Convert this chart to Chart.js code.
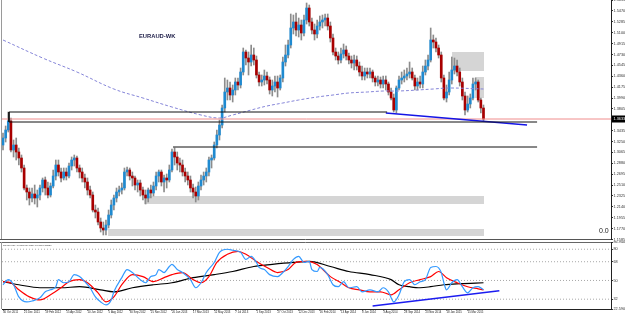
<!DOCTYPE html>
<html>
<head>
<meta charset="utf-8">
<title>EURAUD-WK</title>
<script src="https://cdn.jsdelivr.net/npm/chart.js@4.4.0/dist/chart.umd.min.js"></script>
<style>
  html, body { margin: 0; padding: 0; background: #fff; }
  #wrap { position: relative; width: 625px; height: 316px; overflow: hidden; }
  canvas { position: absolute; left: 0; }
  #main { top: 0; }
  #sub { top: 241px; }
</style>
</head>
<body>
<div id="wrap">
  <canvas id="main" width="625" height="241"></canvas>
  <canvas id="sub" width="625" height="75"></canvas>
</div>
<script>
const symbol = 'EURAUD-WK';
const tdiText = 'TDI 55.0459 46.8195 36.1952 40.6672 43.2836';

// weekly candles, 30 Oct 2011 .. Apr 2015
const opens = [1.3191,1.3310,1.3446,1.3599,1.3106,1.3191,1.3072,1.2970,1.2800,1.2460,
  1.2392,1.2290,1.2358,1.2290,1.2341,1.2460,1.2596,1.2460,1.2341,1.2494,
  1.2664,1.2851,1.2732,1.2630,1.2732,1.2664,1.2834,1.2936,1.2970,1.2800,
  1.2732,1.2630,1.2562,1.2426,1.2341,1.2086,1.2052,1.1882,1.1780,1.1746,
  1.1831,1.2001,1.2171,1.2290,1.2392,1.2426,1.2460,1.2732,1.2766,1.2664,
  1.2630,1.2511,1.2545,1.2426,1.2341,1.2290,1.2426,1.2375,1.2494,1.2664,
  1.2732,1.2562,1.2630,1.2596,1.2766,1.3072,1.2987,1.2885,1.2851,1.2732,
  1.2664,1.2596,1.2460,1.2392,1.2324,1.2494,1.2596,1.2664,1.2732,1.2936,
  1.2970,1.3191,1.3361,1.3531,1.3820,1.4092,1.4160,1.4041,1.4126,1.4262,
  1.4211,1.4432,1.4772,1.4670,1.4602,1.4721,1.4636,1.4381,1.4262,1.4296,
  1.4364,1.4296,1.4126,1.4194,1.4262,1.4160,1.4330,1.4602,1.4721,1.4891,
  1.5180,1.5282,1.5146,1.5231,1.5095,1.5316,1.5520,1.5282,1.5146,1.5078,
  1.5214,1.5282,1.5316,1.5350,1.5214,1.5010,1.4772,1.4704,1.4636,1.4738,
  1.4806,1.4704,1.4636,1.4585,1.4636,1.4534,1.4432,1.4364,1.4432,1.4398,
  1.4432,1.4330,1.4262,1.4296,1.4228,1.4296,1.4228,1.4092,1.3990,1.3786,
  1.4160,1.4296,1.4330,1.4364,1.4398,1.4432,1.4330,1.4194,1.4262,1.4228,
  1.4432,1.4534,1.4636,1.4976,1.4942,1.4840,1.4721,1.4330,1.3990,1.4092,
  1.4296,1.4466,1.4534,1.4432,1.4262,1.4024,1.3786,1.3888,1.3990,1.4228,
  1.4262,1.3956,1.3820];

const highs = [1.3395,1.3514,1.3752,1.3650,1.3276,1.3310,1.3140,1.3021,1.2851,1.2511,
  1.2460,1.2460,1.2511,1.2426,1.2511,1.2630,1.2647,1.2562,1.2545,1.2766,
  1.2936,1.2936,1.2800,1.2800,1.2800,1.2885,1.2987,1.3021,1.3004,1.2851,
  1.2800,1.2698,1.2630,1.2494,1.2392,1.2171,1.2120,1.1950,1.1882,1.1916,
  1.2086,1.2256,1.2341,1.2460,1.2494,1.2545,1.2800,1.2817,1.2800,1.2732,
  1.2664,1.2596,1.2596,1.2477,1.2426,1.2460,1.2511,1.2562,1.2732,1.2766,
  1.2766,1.2681,1.2698,1.2851,1.3123,1.3140,1.3072,1.2970,1.2936,1.2800,
  1.2732,1.2664,1.2528,1.2477,1.2562,1.2681,1.2732,1.2800,1.2987,1.3021,
  1.3242,1.3446,1.3616,1.3871,1.4330,1.4296,1.4262,1.4211,1.4330,1.4330,
  1.4500,1.4840,1.4806,1.4772,1.4891,1.4840,1.4704,1.4432,1.4381,1.4466,
  1.4432,1.4347,1.4296,1.4364,1.4364,1.4381,1.4687,1.4891,1.4976,1.5418,
  1.5401,1.5435,1.5350,1.5316,1.5401,1.5605,1.5571,1.5350,1.5248,1.5316,
  1.5384,1.5401,1.5418,1.5418,1.5282,1.5078,1.4840,1.4772,1.4840,1.4908,
  1.4874,1.4755,1.4704,1.4721,1.4704,1.4602,1.4534,1.4500,1.4500,1.4500,
  1.4466,1.4364,1.4364,1.4347,1.4364,1.4364,1.4262,1.4160,1.4058,1.4194,
  1.4364,1.4432,1.4466,1.4500,1.4602,1.4500,1.4381,1.4330,1.4364,1.4534,
  1.4636,1.4721,1.5180,1.5061,1.5010,1.4891,1.4772,1.4381,1.4211,1.4432,
  1.4687,1.4670,1.4636,1.4500,1.4330,1.4092,1.4024,1.4058,1.4330,1.4330,
  1.4296,1.3990,1.3871];

const lows = [1.3106,1.3242,1.3412,1.3072,1.2987,1.2936,1.2851,1.2732,1.2426,1.2256,
  1.2171,1.2222,1.2188,1.2137,1.2256,1.2392,1.2341,1.2290,1.2307,1.2460,
  1.2596,1.2664,1.2562,1.2596,1.2596,1.2630,1.2766,1.2834,1.2732,1.2630,
  1.2562,1.2460,1.2341,1.2290,1.2052,1.1950,1.1831,1.1712,1.1661,1.1661,
  1.1780,1.1950,1.2086,1.2222,1.2324,1.2358,1.2426,1.2664,1.2596,1.2494,
  1.2426,1.2392,1.2324,1.2256,1.2188,1.2222,1.2290,1.2324,1.2426,1.2562,
  1.2494,1.2392,1.2460,1.2562,1.2732,1.2851,1.2766,1.2732,1.2664,1.2562,
  1.2511,1.2392,1.2290,1.2222,1.2256,1.2426,1.2511,1.2562,1.2664,1.2800,
  1.2936,1.3140,1.3276,1.3480,1.3752,1.3956,1.3956,1.3922,1.4041,1.4126,
  1.4160,1.4381,1.4551,1.4381,1.4534,1.4551,1.4330,1.4194,1.4194,1.4211,
  1.4228,1.4058,1.4024,1.4092,1.4007,1.4126,1.4262,1.4534,1.4670,1.4840,
  1.5078,1.5044,1.5027,1.4976,1.5044,1.5248,1.5214,1.5078,1.4976,1.5010,
  1.5146,1.5180,1.5214,1.5146,1.4942,1.4721,1.4636,1.4568,1.4585,1.4670,
  1.4636,1.4568,1.4500,1.4466,1.4466,1.4364,1.4296,1.4296,1.4330,1.4330,
  1.4262,1.4194,1.4194,1.4160,1.4160,1.4126,1.4041,1.3956,1.3752,1.3735,
  1.4126,1.4228,1.4262,1.4296,1.4330,1.4296,1.4126,1.4126,1.4160,1.4160,
  1.4381,1.4466,1.4602,1.4840,1.4772,1.4670,1.4262,1.3956,1.3922,1.4041,
  1.4228,1.4398,1.4364,1.4194,1.3956,1.3701,1.3752,1.3820,1.3956,1.4126,
  1.3922,1.3735,1.3599];

const closes = [1.3310,1.3446,1.3599,1.3106,1.3191,1.3072,1.2970,1.2800,1.2460,1.2392,
  1.2290,1.2358,1.2290,1.2341,1.2460,1.2596,1.2460,1.2341,1.2494,1.2664,
  1.2851,1.2732,1.2630,1.2732,1.2664,1.2834,1.2936,1.2970,1.2800,1.2732,
  1.2630,1.2562,1.2426,1.2341,1.2086,1.2052,1.1882,1.1780,1.1746,1.1831,
  1.2001,1.2171,1.2290,1.2392,1.2426,1.2460,1.2732,1.2766,1.2664,1.2630,
  1.2511,1.2545,1.2426,1.2341,1.2290,1.2426,1.2375,1.2494,1.2664,1.2732,
  1.2562,1.2630,1.2596,1.2766,1.3072,1.2987,1.2885,1.2851,1.2732,1.2664,
  1.2596,1.2460,1.2392,1.2324,1.2494,1.2596,1.2664,1.2732,1.2936,1.2970,
  1.3191,1.3361,1.3531,1.3820,1.4092,1.4160,1.4041,1.4126,1.4262,1.4211,
  1.4432,1.4772,1.4670,1.4602,1.4721,1.4636,1.4381,1.4262,1.4296,1.4364,
  1.4296,1.4126,1.4194,1.4262,1.4160,1.4330,1.4602,1.4721,1.4891,1.5180,
  1.5282,1.5146,1.5231,1.5095,1.5316,1.5520,1.5282,1.5146,1.5078,1.5214,
  1.5282,1.5316,1.5350,1.5214,1.5010,1.4772,1.4704,1.4636,1.4738,1.4806,
  1.4704,1.4636,1.4585,1.4636,1.4534,1.4432,1.4364,1.4432,1.4398,1.4432,
  1.4330,1.4262,1.4296,1.4228,1.4296,1.4228,1.4092,1.3990,1.3786,1.4160,
  1.4296,1.4330,1.4364,1.4398,1.4432,1.4330,1.4194,1.4262,1.4228,1.4432,
  1.4534,1.4636,1.4976,1.4942,1.4840,1.4721,1.4330,1.3990,1.4092,1.4296,
  1.4466,1.4534,1.4432,1.4262,1.4024,1.3786,1.3888,1.3990,1.4228,1.4262,
  1.3956,1.3820,1.3633];

// moving average (dashed)
const maIndex = [0,15,28,42,53,64,75,82,87,94,100,106,112,119,125,131,138,144,150,163,169,182];
const maValues = [1.4976,1.4670,1.4432,1.4143,1.3990,1.3837,1.3701,1.3650,1.3701,1.3786,1.3854,
  1.3905,1.3956,1.4007,1.4041,1.4075,1.4092,1.4109,1.4109,1.4143,1.4160,1.4143];

// drawn levels, zones and trend line (bar index / price)
const boxLineIndex = [145.5, 2.27, 2.27, 202.3];
const boxLinePrice = [1.3752, 1.3752, 1.3582, 1.3582];
const lowLineIndex = [64.4, 202.3];
const lowLinePrice = [1.3157, 1.3157];
const trendIndex = [145, 198.5];
const trendPrice = [1.3735, 1.3531];
const zoneFrom = [53.4, 39.8, 170.1, 178.8];
const zoneTo = [182.2, 182.2, 182.2, 182.2];
const zoneTop = [1.2324, 1.1763, 1.4772, 1.4347];
const zoneBottom = [1.2188, 1.1644, 1.4449, 1.3990];

const priceTicks = [1.1585,1.1770,1.1955,1.2140,1.2325,1.2510,1.2695,1.2880,1.3065,1.3250,1.3435,1.3620,
  1.3805,1.3990,1.4175,1.4360,1.4545,1.4730,1.4915,1.5100,1.5285,1.5470,1.5655];
const priceMin = 1.1593, priceMax = 1.5656;

// TDI sub window
const fastIndex = [0,2,4,6,9,11,14,16,18,20,21,23,25,27,29,31,33,35,37,39,41,42,45,47,49,52,54,56,58,59,
  61,63,64,66,68,71,73,75,77,80,82,85,87,90,92,94,96,97,99,101,104,106,108,110,112,114,116,117,119,120,
  123,125,127,129,131,134,136,139,142,144,146,148,150,152,154,156,158,160,162,164,166,167,168,170,172,174,176,178,180,182];
const fastValues = [45.9,50.8,45.9,34.2,29.4,30.3,33.3,39.1,41.0,44.0,50.8,47.8,48.8,55.6,53.7,48.8,43.0,34.2,29.4,26.5,
  31.3,39.1,52.7,60.5,57.6,50.8,47.8,53.7,55.6,60.5,57.6,63.4,65.4,60.5,57.6,50.8,43.0,47.8,57.6,67.3,
  77.0,80.0,79.0,77.0,70.2,73.2,67.3,62.5,60.5,55.6,53.7,57.6,63.4,70.2,73.2,67.3,68.3,60.5,58.6,62.5,
  55.6,45.9,44.0,48.8,43.0,44.0,39.1,41.0,39.1,43.0,39.1,29.4,36.2,48.8,50.8,45.9,48.8,50.8,62.5,63.4,
  57.6,47.8,41.0,47.8,50.8,44.0,38.1,43.0,44.0,41.0];
const signalIndex = [0,3,6,10,14,18,22,25,29,32,36,39,42,45,49,53,57,61,64,68,72,75,78,81,85,89,92,96,100,104,
  108,111,115,119,124,128,131,135,139,143,147,150,154,158,162,165,168,172,176,180,182];
const signalValues = [48.8,47.8,41.0,34.2,31.3,36.2,43.0,48.8,50.8,47.8,38.1,29.4,34.2,45.9,55.6,53.7,48.8,52.7,55.6,57.6,
  50.8,47.8,53.7,67.3,75.1,78.0,75.1,68.3,62.5,57.6,60.5,67.3,68.3,65.4,53.7,47.8,43.0,41.0,39.1,39.1,
  36.2,41.0,47.8,50.8,53.7,58.6,52.7,47.8,44.0,42.0,41.0];
const baseIndex = [0,6,14,22,29,37,42,49,57,64,72,80,87,95,102,110,116,124,131,139,147,150,154,158,162,167,173,182];
const baseValues = [48.8,45.9,43.0,43.0,44.0,41.0,39.1,43.0,45.9,47.8,52.7,55.6,58.6,63.4,65.4,67.3,68.3,63.4,58.6,55.6,
  50.8,45.9,44.0,43.0,44.0,45.9,46.9,47.8];
const subTrendIndex = [140, 188];
const subTrendValues = [25.5, 40.1];
const subLevels = [32, 50, 68, 80];
const subTicks = [22.5906, 32, 50, 68, 80, 86.9406];
const subMin = 22.5906, subMax = 86.9406;

const dateLabels = ['30 Oct 2011','25 Dec 2011','19 Feb 2012','15 Apr 2012','10 Jun 2012','5 Aug 2012',
  '30 Sep 2012','25 Nov 2012','20 Jan 2013','17 Mar 2013','12 May 2013','7 Jul 2013','1 Sep 2013',
  '27 Oct 2013','22 Dec 2013','16 Feb 2014','13 Apr 2014','8 Jun 2014','3 Aug 2014','28 Sep 2014',
  '23 Nov 2014','18 Jan 2015','15 Mar 2015'];
const weeksPerLabel = 8;

const xMin = -0.38, xMax = 230.3;
const FONT = 'Liberation Sans';

const pts = (xs, ys) => xs.map((x, k) => ({ x: x, y: ys[k] }));
const lineSet = (data, color, width, extra) => Object.assign({
  type: 'line', data: data, borderColor: color, borderWidth: width,
  pointRadius: 0, fill: false, tension: 0
}, extra || {});

const lastClose = closes[closes.length - 1];

const mainDecor = {
  id: 'mainDecor',
  beforeDatasetsDraw(chart) {
    const { ctx, scales: { x, y } } = chart;
    ctx.save();
    ctx.fillStyle = '#d5d5d5';
    zoneFrom.forEach((f, k) => {
      const x0 = x.getPixelForValue(f), x1 = x.getPixelForValue(zoneTo[k]);
      const y0 = y.getPixelForValue(zoneTop[k]), y1 = y.getPixelForValue(zoneBottom[k]);
      ctx.fillRect(x0, y0, x1 - x0, y1 - y0);
    });
    ctx.restore();
  },
  afterDraw(chart) {
    const { ctx, chartArea: a, scales: { y } } = chart;
    ctx.save();
    ctx.lineWidth = 1;
    ctx.strokeStyle = '#9a9a9a';
    ctx.beginPath(); ctx.moveTo(1.5, 0); ctx.lineTo(1.5, a.bottom); ctx.stroke();
    ctx.strokeStyle = '#555';
    ctx.beginPath(); ctx.moveTo(0, a.bottom + 0.5); ctx.lineTo(a.right, a.bottom + 0.5); ctx.stroke();

    ctx.textBaseline = 'middle';
    ctx.font = 'bold 5.8px "' + FONT + '"';
    ctx.fillStyle = '#1b1b46';
    ctx.fillText(symbol, 139, 36.5);
    ctx.font = '7px "' + FONT + '"';
    ctx.fillStyle = '#222';
    ctx.fillText('0.0', 599, 231.5);

    const py = y.getPixelForValue(lastClose);
    ctx.fillStyle = '#000';
    ctx.fillRect(a.right + 1, py - 3.5, 14, 7);
    ctx.fillStyle = '#fff';
    ctx.font = '3.8px "' + FONT + '"';
    ctx.fillText(lastClose.toFixed(4), a.right + 2.5, py);
    ctx.restore();
  }
};

new Chart(document.getElementById('main'), {
  type: 'bar',
  data: {
    datasets: [
      {
        type: 'bar', grouped: false, order: 2, barThickness: 2, borderWidth: 0,
        data: closes.map((c, i) => ({ x: i, y: [opens[i], c] })),
        backgroundColor: closes.map((c, i) => c >= opens[i] ? '#1f8ad0' : '#a80000')
      },
      {
        type: 'bar', grouped: false, order: 3, barThickness: 1, borderWidth: 0,
        data: highs.map((h, i) => ({ x: i, y: [lows[i], h] })),
        backgroundColor: '#8c8c8c'
      },
      lineSet(pts(maIndex, maValues), '#8585d8', 1, { order: 1, borderDash: [3, 2], tension: 0.4 }),
      lineSet(pts(boxLineIndex, boxLinePrice), '#111', 1, { order: 0 }),
      lineSet(pts(lowLineIndex, lowLinePrice), '#111', 1, { order: 0 }),
      lineSet(pts(trendIndex, trendPrice), '#1414e6', 1.5, { order: 0 }),
      lineSet(pts([xMin, xMax], [lastClose, lastClose]), '#f08c8c', 1, { order: 0 })
    ]
  },
  options: {
    responsive: false, animation: false, events: [],
    layout: { padding: { left: 2, right: 0, top: 0, bottom: 2 } },
    plugins: { legend: { display: false }, tooltip: { enabled: false } },
    scales: {
      x: { type: 'linear', min: xMin, max: xMax, display: false, offset: false },
      y: {
        position: 'right', min: priceMin, max: priceMax,
        afterBuildTicks: s => { s.ticks = priceTicks.map(v => ({ value: v })); },
        afterFit: s => { s.width = 14; s.paddingTop = 0; s.paddingBottom = 0; },
        ticks: { autoSkip: false, padding: 0.5, color: '#333', font: { size: 3.8, family: FONT },
          callback: v => Number(v).toFixed(4) },
        grid: { drawOnChartArea: false, tickLength: 2, color: '#333' },
        border: { display: true, color: '#222', width: 1 }
      }
    }
  },
  plugins: [mainDecor]
});

const subDecor = {
  id: 'subDecor',
  afterDraw(chart) {
    const { ctx, chartArea: a } = chart;
    ctx.save();
    ctx.lineWidth = 1;
    ctx.strokeStyle = '#666';
    ctx.beginPath(); ctx.moveTo(0, a.top + 0.5); ctx.lineTo(a.right, a.top + 0.5); ctx.stroke();
    ctx.strokeStyle = '#9a9a9a';
    ctx.beginPath(); ctx.moveTo(1.5, a.top); ctx.lineTo(1.5, a.bottom); ctx.stroke();
    ctx.fillStyle = '#333';
    ctx.textBaseline = 'middle';
    ctx.font = '2.3px "' + FONT + '"';
    ctx.fillText(tdiText, 3, a.top + 3);
    ctx.restore();
  }
};

new Chart(document.getElementById('sub'), {
  type: 'line',
  data: {
    datasets: subLevels.map(v => lineSet(pts([xMin, xMax], [v, v]), '#a8a8a8', 1, { order: 5, borderDash: [1, 2] }))
      .concat([
        lineSet(pts(baseIndex, baseValues), '#000', 1.2, { order: 3, cubicInterpolationMode: 'monotone' }),
        lineSet(pts(signalIndex, signalValues), '#ff0000', 1.2, { order: 2, cubicInterpolationMode: 'monotone' }),
        lineSet(pts(fastIndex, fastValues), '#3399ff', 1.2, { order: 1, cubicInterpolationMode: 'monotone' }),
        lineSet(pts(subTrendIndex, subTrendValues), '#1c1cf0', 1.5, { order: 0 })
      ])
  },
  options: {
    responsive: false, animation: false, events: [],
    layout: { padding: { left: 2, right: 0, top: 1, bottom: 0 } },
    plugins: { legend: { display: false }, tooltip: { enabled: false } },
    scales: {
      x: {
        type: 'linear', min: xMin, max: xMax, position: 'bottom', offset: false,
        afterBuildTicks: s => { s.ticks = dateLabels.map((d, k) => ({ value: k * weeksPerLabel })); },
        afterFit: s => { s.height = 7; s.paddingLeft = 0; s.paddingRight = 0; },
        ticks: { autoSkip: false, maxRotation: 0, align: 'start', padding: 0.5, color: '#222',
          font: { size: 2.8, family: FONT },
          callback: v => dateLabels[Math.round(v / weeksPerLabel)] },
        grid: { drawOnChartArea: false, tickLength: 1.5, color: '#333' },
        border: { display: true, color: '#222', width: 1 }
      },
      y: {
        position: 'right', min: subMin, max: subMax,
        afterBuildTicks: s => { s.ticks = subTicks.map(v => ({ value: v })); },
        afterFit: s => { s.width = 14; s.paddingTop = 0; s.paddingBottom = 0; },
        ticks: { autoSkip: false, padding: 0.5, color: '#333', font: { size: 3.8, family: FONT },
          callback: v => Number.isInteger(v) ? String(v) : Number(v).toFixed(4) },
        grid: { drawOnChartArea: false, tickLength: 2, color: '#333' },
        border: { display: true, color: '#222', width: 1 }
      }
    }
  },
  plugins: [subDecor]
});
</script>
</body>
</html>
